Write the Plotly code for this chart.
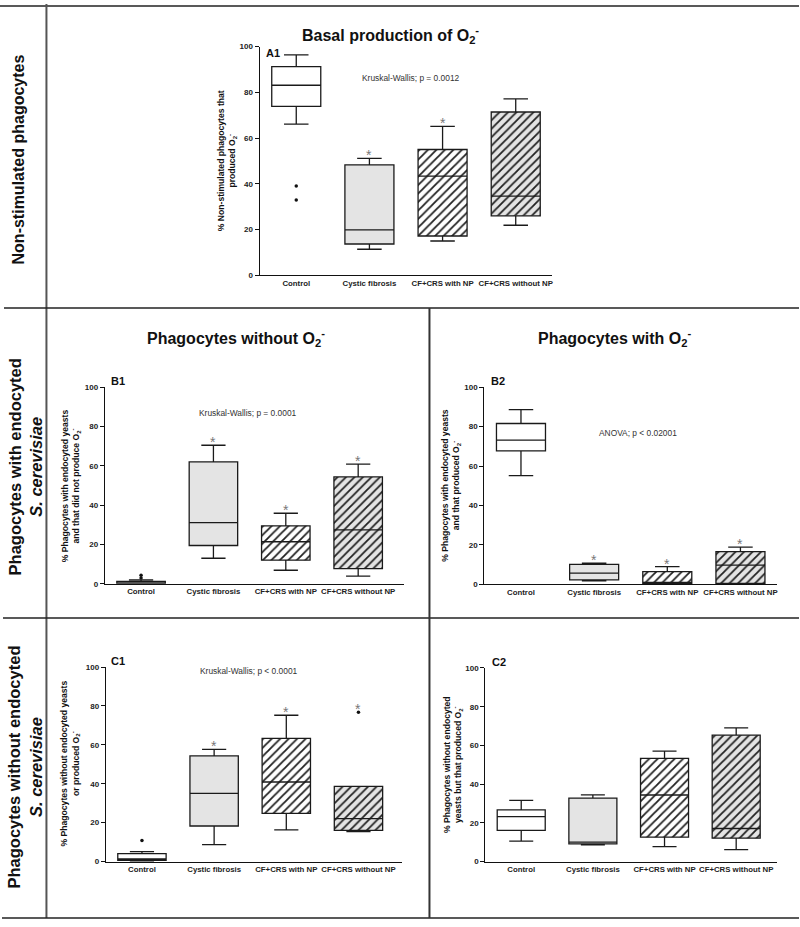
import plotly.graph_objects as go

W, H = 800, 927
FONT = "Liberation Sans"

categories = ["Control", "Cystic fibrosis", "CF+CRS with NP", "CF+CRS without NP"]
y_ticks = [0, 20, 40, 60, 80, 100]

# ---- Panel data (lowerfence, q1, median, q3, upperfence) ----
A1_low = [66.1, 11.4, 15.0, 21.9]
A1_q1 = [73.9, 13.7, 17.2, 26.0]
A1_med = [83.1, 19.9, 43.4, 34.6]
A1_q3 = [91.2, 48.3, 55.0, 71.4]
A1_up = [96.4, 51.1, 65.1, 77.1]
A1_out_cat = ["Control", "Control"]
A1_out_val = [39.1, 32.9]
A1_sig = [False, True, True, False]

B1_low = [0.0, 13.0, 6.9, 3.9]
B1_q1 = [0.0, 19.5, 12.0, 7.7]
B1_med = [0.5, 31.1, 21.4, 27.4]
B1_q3 = [1.2, 62.0, 29.5, 54.4]
B1_up = [2.0, 70.5, 35.9, 60.9]
B1_out_cat = ["Control", "Control"]
B1_out_val = [3.0, 4.4]
B1_sig = [False, True, True, True]

B2_low = [55.1, 1.7, 0.0, 0.0]
B2_q1 = [67.7, 2.2, 0.4, 0.5]
B2_med = [73.2, 5.7, 0.9, 9.7]
B2_q3 = [81.6, 10.1, 6.4, 16.6]
B2_up = [88.6, 10.7, 9.0, 18.9]
B2_out_cat = []
B2_out_val = []
B2_sig = [False, True, True, True]

C1_low = [0.0, 8.7, 16.3, 15.4]
C1_q1 = [0.7, 18.3, 24.8, 16.0]
C1_med = [1.4, 35.1, 40.9, 22.1]
C1_q3 = [4.1, 54.3, 63.3, 38.7]
C1_up = [5.1, 57.7, 75.2, 38.7]
C1_out_cat = ["Control", "CF+CRS without NP"]
C1_out_val = [10.9, 76.7]
C1_sig = [False, True, True, True]

C2_low = [10.6, 8.7, 7.7, 6.2]
C2_q1 = [16.1, 9.2, 12.6, 12.1]
C2_med = [23.2, 10.1, 34.4, 17.1]
C2_q3 = [26.7, 32.8, 53.3, 65.3]
C2_up = [31.6, 34.5, 57.1, 69.1]
C2_out_cat = []
C2_out_val = []
C2_sig = [False, False, False, False]

fill_colors = ["white", "#e4e4e4", "white", "#e4e4e4"]
hatch = ["", "", "/", "/"]

O2 = "O<sub>2</sub><sup>-</sup>"


def px(x):
    return x / W


def py(y):
    return 1 - y / H


# name, data..., x-domain px, y-domain px, x range upper end
panels = [
    ("A1", A1_low, A1_q1, A1_med, A1_q3, A1_up, A1_out_cat, A1_out_val, A1_sig, (260, 553), (43, 274), 3.5),
    ("B1", B1_low, B1_q1, B1_med, B1_q3, B1_up, B1_out_cat, B1_out_val, B1_sig, (105, 405), (387, 585.5), 3.64),
    ("B2", B2_low, B2_q1, B2_med, B2_q3, B2_up, B2_out_cat, B2_out_val, B2_sig, (485, 778), (387, 586), 3.5),
    ("C1", C1_low, C1_q1, C1_med, C1_q3, C1_up, C1_out_cat, C1_out_val, C1_sig, (106, 403), (669.5, 866), 3.61),
    ("C2", C2_low, C2_q1, C2_med, C2_q3, C2_up, C2_out_cat, C2_out_val, C2_sig, (486, 778), (670.5, 866), 3.57),
]

fig = go.Figure()
layout_axes = {}
annotations = []
BOXW = 0.67

for i, (name, low, q1, med, q3, up, ocat, oval, sig, xd, yd, xr) in enumerate(panels):
    n = "" if i == 0 else str(i + 1)
    xa, ya = "x" + n, "y" + n
    # filled / hatched box bodies, one bar per category
    for c, a, b, fc, hs in zip(categories, q1, q3, fill_colors, hatch):
        pat = dict(shape=hs, fgcolor="#222222", bgcolor=fc, size=6, solidity=0.3,
                   fillmode="replace") if hs else dict(shape="")
        fig.add_trace(go.Bar(
            x=[c], y=[b - a], base=[a], width=BOXW,
            xaxis=xa, yaxis=ya, showlegend=False, hoverinfo="skip",
            marker=dict(color=fc, line=dict(width=0), pattern=pat),
        ))
    # box outlines, medians, whiskers
    fig.add_trace(go.Box(
        x=categories, q1=q1, median=med, q3=q3, lowerfence=low, upperfence=up,
        width=BOXW, whiskerwidth=0.5, fillcolor="rgba(0,0,0,0)",
        line=dict(color="#1a1a1a", width=1.3), boxpoints=False,
        xaxis=xa, yaxis=ya, showlegend=False, hoverinfo="skip",
    ))
    # outliers
    if ocat:
        fig.add_trace(go.Scatter(
            x=ocat, y=oval, mode="markers", xaxis=xa, yaxis=ya, showlegend=False,
            marker=dict(color="#111", size=3.5), hoverinfo="skip", cliponaxis=False,
        ))
    # significance asterisks (placed just above the highest whisker/outlier)
    for c, s, u in zip(categories, sig, up):
        if s:
            top = max([u] + [v for oc, v in zip(ocat, oval) if oc == c])
            annotations.append(dict(
                text="*", x=c, y=top, xref=xa, yref=ya, showarrow=False,
                xanchor="center", yanchor="middle", yshift=3,
                font=dict(family=FONT, size=14, color="#777"),
            ))
    xkey = "xaxis" + n
    ykey = "yaxis" + n
    layout_axes[xkey] = dict(
        domain=[px(xd[0]), px(xd[1])], anchor=ya, type="category",
        categoryorder="array", categoryarray=categories, range=[-0.5, xr],
        showline=True, linecolor="#111", linewidth=1.3, ticks="", showgrid=False,
        zeroline=False, tickangle=0,
        tickfont=dict(family=FONT, size=7.8, color="#222", weight="bold"),
        fixedrange=True,
    )
    layout_axes[ykey] = dict(
        domain=[py(yd[1]), py(yd[0])], anchor=xa, range=[0, 100],
        tickvals=y_ticks, showline=True, linecolor="#111", linewidth=1.3,
        ticks="outside", ticklen=4, tickwidth=1.2, tickcolor="#111", showgrid=False,
        zeroline=False, tickfont=dict(family=FONT, size=8, color="#222", weight="bold"),
        fixedrange=True,
    )


def ann(text, x, y, size, bold=False, angle=0, color="#111"):
    annotations.append(dict(
        text=text, x=px(x), y=py(y), xref="paper", yref="paper", showarrow=False,
        xanchor="center", yanchor="middle", textangle=angle,
        font=dict(family=FONT, size=size, color=color, weight="bold" if bold else "normal"),
    ))


# Titles
ann("Basal production of " + O2, 391, 31, 16, bold=True)
ann("Phagocytes without " + O2, 236, 337, 16, bold=True)
ann("Phagocytes with " + O2, 615, 337, 16, bold=True)
# Panel letters
ann("A1", 273, 49, 11, bold=True)
ann("B1", 118, 381, 11, bold=True)
ann("B2", 499, 381, 11, bold=True)
ann("C1", 118, 663, 11, bold=True)
ann("C2", 500, 664, 11, bold=True)
# stats
ann("Kruskal-Wallis; p = 0.0012", 412, 75, 8.4, color="#333")
ann("Kruskal-Wallis; p = 0.0001", 248, 413, 8.4, color="#333")
ann("ANOVA; p < 0.02001", 639, 433, 8.4, color="#333")
ann("Kruskal-Wallis; p < 0.0001", 249, 674, 8.4, color="#333")
# y titles
ann("% Non-stimulated phagocytes that<br>produced " + O2, 228, 158, 8.6, bold=True, angle=-90)
ann("% Phagocytes with endocyted yeasts<br>and that did not produce " + O2, 71, 486, 8.6, bold=True, angle=-90)
ann("% Phagocytes with endocyted yeasts<br>and that produced " + O2, 452, 486, 8.6, bold=True, angle=-90)
ann("% Phagocytes without endocyted yeasts<br>or produced " + O2, 70, 767, 8.6, bold=True, angle=-90)
ann("% Phagocytes without endocyted<br>yeasts but that produced " + O2, 453, 768, 8.6, bold=True, angle=-90)
# Row labels
ann("Non-stimulated phagocytes", 18, 157, 16, bold=True, angle=-90)
ann("Phagocytes with endocyted<br><i>S. cerevisiae</i>", 25, 467, 16.5, bold=True, angle=-90)
ann("Phagocytes without endocyted<br><i>S. cerevisiae</i>", 25, 770, 16.5, bold=True, angle=-90)

shapes = []


def line(x0, y0, x1, y1, color="#222", width=1.5):
    shapes.append(dict(type="line", xref="paper", yref="paper",
                       x0=px(x0), y0=py(y0), x1=px(x1), y1=py(y1),
                       line=dict(color=color, width=width)))


line(0, 2, 800, 2)
line(46.5, 0, 46.5, 923, color="#555", width=2)
line(4, 307, 800, 307)
line(3, 620, 800, 620)
line(2, 923, 800, 923)
line(430, 307, 430, 923, color="#333", width=2)

fig.update_layout(
    width=W, height=H, margin=dict(l=0, r=0, t=0, b=0),
    paper_bgcolor="white", plot_bgcolor="rgba(0,0,0,0)",
    barmode="overlay", boxmode="overlay", showlegend=False,
    annotations=annotations, shapes=shapes,
    font=dict(family=FONT),
    **layout_axes,
)

fig.write_html("out.html", config={"responsive": False, "displayModeBar": False},
               post_script="document.body.style.margin='0px';document.body.style.overflow='hidden';")
